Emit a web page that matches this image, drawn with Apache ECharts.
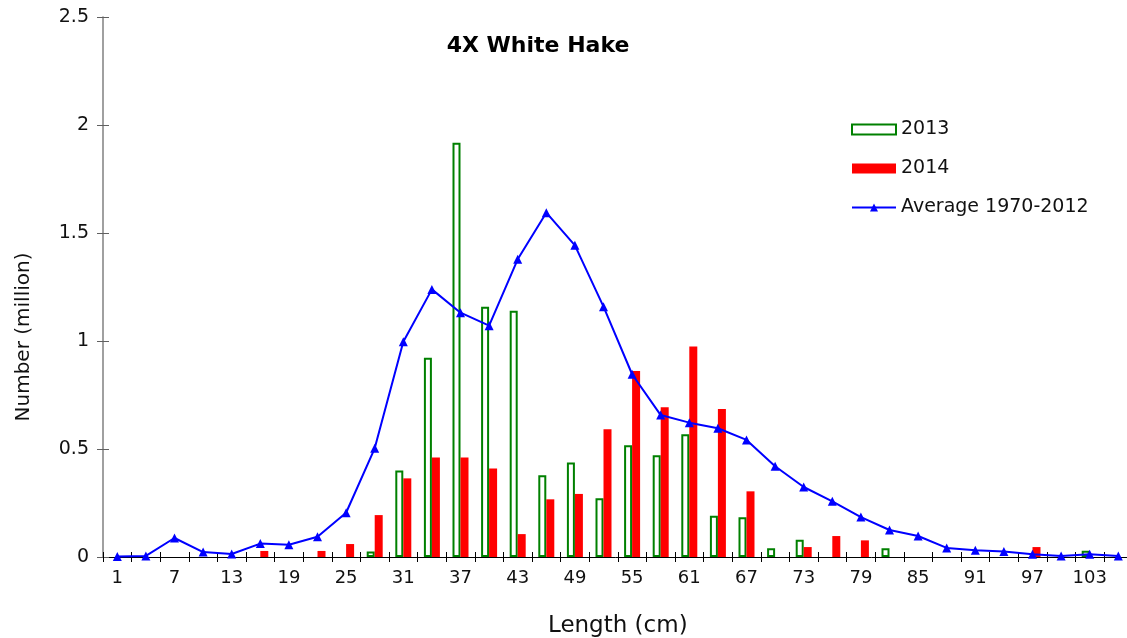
<!DOCTYPE html>
<html>
<head>
<meta charset="utf-8">
<script src="https://cdn.jsdelivr.net/npm/echarts@6/dist/echarts.min.js"></script>
<style>
html,body{margin:0;padding:0;background:#fff;}
#chart{width:1127px;height:638px;}
</style>
</head>
<body>
<div id="chart"></div>
<script>
var lengths = [1,4,7,10,13,16,19,22,25,28,31,34,37,40,43,46,49,52,55,58,61,64,67,70,73,76,79,82,85,88,91,94,97,100,103,106];
var y2013 = [null,null,null,null,null,null,null,null,null,0.025,0.40,0.923,1.918,1.159,1.140,0.378,0.437,0.272,0.517,0.471,0.568,0.191,0.184,0.040,0.080,null,null,0.040,null,null,null,null,null,null,0.029,null];
var y2014 = [null,null,null,null,null,0.028,null,0.028,0.060,0.194,0.364,0.461,0.461,0.410,0.106,0.267,0.292,0.591,0.861,0.693,0.975,0.685,0.304,null,0.046,0.097,0.077,null,null,null,null,null,0.046,null,null,null];
var avg = [0.002,0.005,0.088,0.023,0.014,0.062,0.057,0.094,0.205,0.503,0.997,1.239,1.131,1.071,1.378,1.594,1.443,1.159,0.846,0.657,0.622,0.596,0.542,0.420,0.324,0.258,0.185,0.125,0.097,0.042,0.031,0.025,0.013,0.005,0.013,0.005];
var yTicks = [0, 0.5, 1, 1.5, 2, 2.5];

var FONT = 'DejaVu Sans';
var chart = echarts.init(document.getElementById('chart'), null, {renderer: 'canvas'});
var cats = lengths.map(String);
chart.setOption({
  backgroundColor: '#fff',
  animation: false,
  textStyle: {fontFamily: FONT},
  title: {
    text: '4X White Hake',
    left: 533, top: 30, textAlign: 'center',
    textStyle: {fontFamily: FONT, fontSize: 22, fontWeight: 'bold', color: '#000'}
  },
  legend: {
    orient: 'vertical',
    left: 851, top: 120,
    padding: 0,
    itemGap: 20,
    itemWidth: 44, itemHeight: 10,
    textStyle: {fontFamily: FONT, fontSize: 19, color: '#111'},
    data: [
      {name: '2013', icon: 'rect'},
      {name: '2014', icon: 'rect'},
      {name: 'Average 1970-2012'}
    ]
  },
  grid: {left: 103, top: 17, right: -5.6, bottom: 81, outerBoundsMode: 'none', containLabel: false},
  xAxis: [{
    type: 'category', data: cats, position: 'bottom',
    name: 'Length (cm)', nameLocation: 'middle', nameGap: 69,
    nameTextStyle: {fontFamily: FONT, fontSize: 23, color: '#111', verticalAlign: 'middle'},
    axisLine: {lineStyle: {color: '#000', width: 1}},
    axisTick: {show: true, interval: 0, length: 5, lineStyle: {color: '#000'}},
    axisLabel: {interval: 1, margin: 12, fontFamily: FONT, fontSize: 18, color: '#111'},
    splitLine: {show: false}
  }, {
    type: 'category', data: cats, position: 'bottom',
    axisLine: {show: false},
    axisTick: {show: true, inside: true, interval: 0, length: 5, lineStyle: {color: '#000'}},
    axisLabel: {show: false},
    splitLine: {show: false}
  }],
  yAxis: [{
    type: 'value', min: 0, max: 2.5, interval: 0.5, position: 'left',
    axisLine: {show: true, lineStyle: {color: '#808080', width: 1.5}},
    axisTick: {show: true, length: 6, lineStyle: {color: '#606060'}},
    axisLabel: {margin: 14, fontFamily: FONT, fontSize: 19, color: '#111',
      formatter: function (v) { return yTicks.indexOf(v) >= 0 ? String(v) : ''; }},
    splitLine: {show: false}
  }, {
    type: 'value', min: 0, max: 2.5, interval: 0.5, position: 'left',
    axisLine: {show: false},
    axisTick: {show: true, inside: true, length: 6, lineStyle: {color: '#606060'}},
    axisLabel: {show: false},
    splitLine: {show: false}
  }],
  graphic: [{
    type: 'text', x: 24, y: 337, rotation: Math.PI / 2,
    style: {text: 'Number (million)', fontFamily: FONT, fontSize: 20, fill: '#111', align: 'center', verticalAlign: 'middle'}
  }],
  series: [{
    name: '2013', type: 'bar', data: y2013, barWidth: 8, barGap: '0%',
    itemStyle: {color: '#ffffff', borderColor: '#008000', borderWidth: 2}
  }, {
    name: '2014', type: 'bar', data: y2014, barWidth: 8, barGap: '0%',
    itemStyle: {color: '#ff0000'}
  }, {
    name: 'Average 1970-2012', type: 'line', data: avg,
    symbol: 'triangle', symbolSize: 9, showAllSymbol: true,
    lineStyle: {color: '#0000ff', width: 2},
    itemStyle: {color: '#0000ff'},
    z: 5
  }]
});
</script>
</body>
</html>
